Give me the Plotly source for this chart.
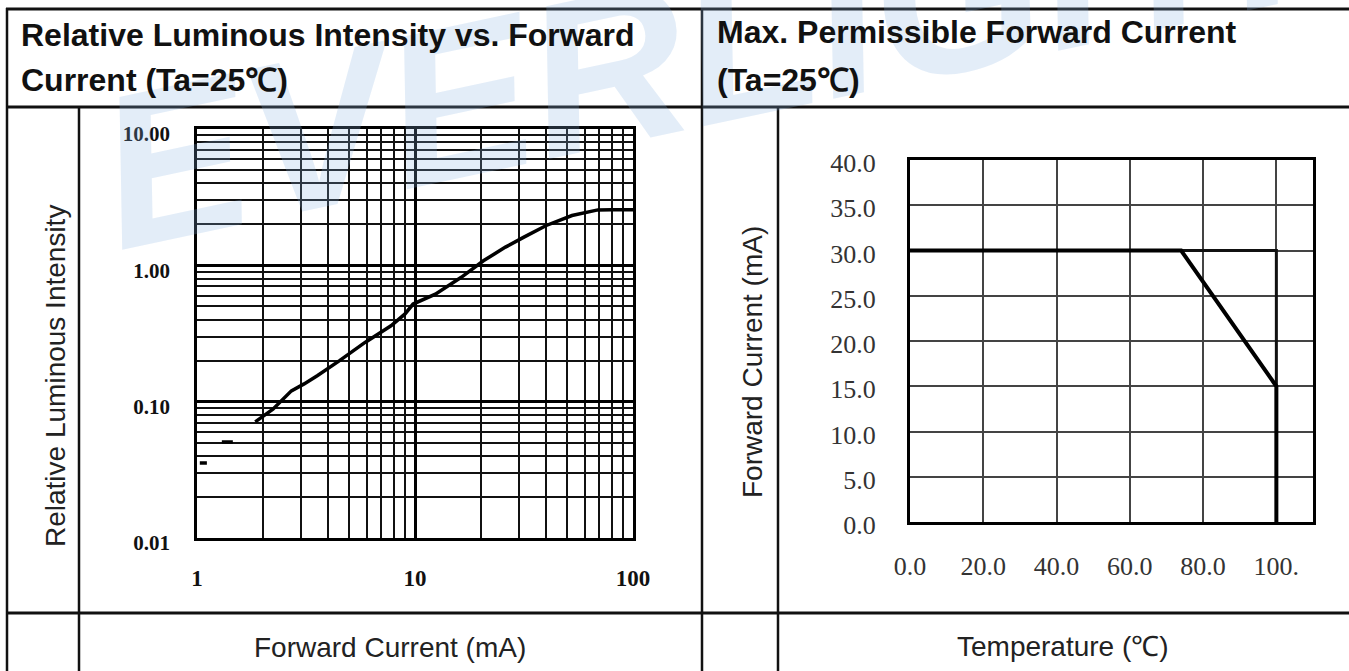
import plotly.graph_objects as go

W, H = 1349, 671

# ---------------- data ----------------
# Left chart: relative luminous intensity vs forward current (log-log)
current_ma = [1.03, 1.11, None, 1.30, 1.46, None,
              1.85, 2.23, 2.71, 3.10, 3.56, 4.49, 5.90, 7.76, 9.0, 9.8,
              12.4, 16.3, 20.6, 26.0, 31.6, 40.0, 52.5, 69.0, 80.0, 100.0]
rel_intensity = [0.0355, 0.0355, None, 0.0506, 0.0506, None,
                 0.071, 0.088, 0.120, 0.135, 0.155, 0.199, 0.272, 0.360, 0.44, 0.52,
                 0.615, 0.817, 1.08, 1.36, 1.61, 1.96, 2.32, 2.55, 2.56, 2.56]

x1_major = [1, 10, 100]
x1_labels = ["1", "10", "100"]
x1_minor = [2, 3, 4, 5, 6, 7, 8, 9, 20, 30, 40, 50, 60, 70, 80, 90]
y1_major = [0.01, 0.1, 1, 10]
y1_labels = ["0.01", "0.10", "1.00", "10.00"]
y1_minor = [0.02, 0.03, 0.04, 0.05, 0.06, 0.07, 0.08, 0.09,
            0.2, 0.3, 0.4, 0.5, 0.6, 0.7, 0.8, 0.9,
            2, 3, 4, 5, 6, 7, 8, 9]

# Right chart: max permissible forward current vs temperature (derating)
temp_c = [0, 74, 100, 100]
max_if_ma = [30, 30, 15, 0]
temp_outline = [74, 100, 100]
if_outline = [30, 30, 15]

x2_ticks = [0, 20, 40, 60, 80, 100]
x2_labels = ["0.0", "20.0", "40.0", "60.0", "80.0", "100."]
y2_ticks = [0, 5, 10, 15, 20, 25, 30, 35, 40]
y2_labels = ["0.0", "5.0", "10.0", "15.0", "20.0", "25.0", "30.0", "35.0", "40.0"]

header_left = ["Relative Luminous Intensity vs. Forward", "Current (Ta=25℃)"]
header_right = ["Max. Permissible Forward Current", "(Ta=25℃)"]
ytitle_left = "Relative Luminous Intensity"
xtitle_left = "Forward Current (mA)"
ytitle_right = "Forward Current (mA)"
xtitle_right = "Temperature (℃)"
watermark = "EVERLIGHT"


def px(x):
    return x / W


def py(y):
    return 1 - y / H


fig = go.Figure()

fig.add_trace(go.Scatter(x=current_ma, y=rel_intensity, mode="lines",
                         line=dict(color="black", width=3.5),
                         connectgaps=False, xaxis="x", yaxis="y",
                         showlegend=False, hoverinfo="skip"))
fig.add_trace(go.Scatter(x=temp_outline, y=if_outline, mode="lines",
                         line=dict(color="#111", width=3),
                         xaxis="x2", yaxis="y2", showlegend=False, hoverinfo="skip"))
fig.add_trace(go.Scatter(x=temp_c, y=max_if_ma, mode="lines",
                         line=dict(color="black", width=4),
                         xaxis="x2", yaxis="y2", showlegend=False, hoverinfo="skip"))

serif = "Liberation Serif, Times New Roman, serif"
sans = "Liberation Sans, Arial, sans-serif"

fig.update_layout(
    width=W, height=H, margin=dict(l=0, r=0, t=0, b=0, pad=0, autoexpand=False),
    paper_bgcolor="white", plot_bgcolor="white", showlegend=False,
    xaxis=dict(type="log", range=[0, 2], domain=[px(197), px(633)], anchor="y",
               tickvals=x1_major, ticktext=x1_labels, ticks="", automargin=False,
               ticklabelstandoff=18,
               tickfont=dict(family=serif, size=23, color="#111", weight="bold"),
               showgrid=True, gridcolor="black", gridwidth=2.5,
               minor=dict(tickvals=x1_minor, showgrid=True, gridcolor="#111", gridwidth=1.6, ticks=""),
               showline=True, linecolor="black", linewidth=2.5, mirror=True,
               zeroline=False, fixedrange=True),
    yaxis=dict(type="log", range=[-2, 1], domain=[py(538), py(129)], anchor="x",
               tickvals=y1_major, ticktext=y1_labels, ticks="", automargin=False,
               ticklabelstandoff=20, ticklabelshift=5,
               tickfont=dict(family=serif, size=21, color="#111", weight="bold"),
               showgrid=True, gridcolor="black", gridwidth=2.5,
               minor=dict(tickvals=y1_minor, showgrid=True, gridcolor="#111", gridwidth=1.6, ticks=""),
               showline=True, linecolor="black", linewidth=2.5, mirror=True,
               zeroline=False, fixedrange=True),
    xaxis2=dict(range=[0, 110], domain=[px(910), px(1313)], anchor="y2",
                tickvals=x2_ticks, ticktext=x2_labels, ticks="", automargin=False,
                ticklabelstandoff=19,
                tickfont=dict(family=serif, size=26, color="#333"),
                showgrid=True, gridcolor="#444", gridwidth=1.5,
                showline=True, linecolor="black", linewidth=3, mirror=True,
                zeroline=False, fixedrange=True),
    yaxis2=dict(range=[0, 40], domain=[py(522), py(160)], anchor="x2",
                tickvals=y2_ticks, ticktext=y2_labels, ticks="", automargin=False,
                ticklabelstandoff=26, ticklabelshift=3,
                tickfont=dict(family=serif, size=26, color="#333"),
                showgrid=True, gridcolor="#444", gridwidth=1.5,
                showline=True, linecolor="black", linewidth=3, mirror=True,
                zeroline=False, fixedrange=True),
)

# table lines
shapes = []


def hline(y, x0, x1, w=3):
    shapes.append(dict(type="line", xref="paper", yref="paper",
                       x0=px(x0), x1=px(x1), y0=py(y), y1=py(y),
                       line=dict(color="#111", width=w), layer="above"))


def vline(x, y0, y1, w=2.5):
    shapes.append(dict(type="line", xref="paper", yref="paper",
                       x0=px(x), x1=px(x), y0=py(y0), y1=py(y1),
                       line=dict(color="#111", width=w), layer="above"))


hline(9, 6, W)
hline(107, 6, W)
hline(613, 6, W)
vline(7, 8, H)
vline(702, 8, H)
vline(79, 107, H)
vline(778, 107, H)
fig.update_layout(shapes=shapes)

ann = []
# faint watermark
ann.append(dict(text="<b><i>" + watermark + "</i></b>", xref="paper", yref="paper",
                x=px(720), y=py(45), xanchor="center", yanchor="middle",
                showarrow=False, textangle=-12,
                font=dict(family=sans, size=218, color="rgba(140,180,225,0.24)")))
# headers
hfont = dict(family=sans, size=32, color="#111", weight="bold")
ann.append(dict(text=header_left[0], xref="paper", yref="paper", x=px(19), y=py(35),
                xanchor="left", yanchor="middle", showarrow=False, font=hfont))
ann.append(dict(text=header_left[1], xref="paper", yref="paper", x=px(19), y=py(80),
                xanchor="left", yanchor="middle", showarrow=False, font=hfont))
ann.append(dict(text=header_right[0], xref="paper", yref="paper", x=px(715), y=py(32),
                xanchor="left", yanchor="middle", showarrow=False, font=hfont))
ann.append(dict(text=header_right[1], xref="paper", yref="paper", x=px(715), y=py(80),
                xanchor="left", yanchor="middle", showarrow=False, font=hfont))
# axis titles
tfont = dict(family=sans, size=28, color="#222")
ann.append(dict(text=ytitle_left, xref="paper", yref="paper", x=px(55), y=py(376),
                xanchor="center", yanchor="middle", showarrow=False, textangle=-90,
                font=tfont))
ann.append(dict(text=xtitle_left, xref="paper", yref="paper", x=px(390), y=py(647),
                xanchor="center", yanchor="middle", showarrow=False, font=tfont))
ann.append(dict(text=ytitle_right, xref="paper", yref="paper", x=px(752), y=py(362),
                xanchor="center", yanchor="middle", showarrow=False, textangle=-90,
                font=tfont))
ann.append(dict(text=xtitle_right, xref="paper", yref="paper", x=px(1063), y=py(646),
                xanchor="center", yanchor="middle", showarrow=False, font=tfont))
fig.update_layout(annotations=ann)

fig.write_html("out.html", config={"displayModeBar": False},
               post_script="document.body.style.margin='0';document.body.style.overflow='hidden';")
